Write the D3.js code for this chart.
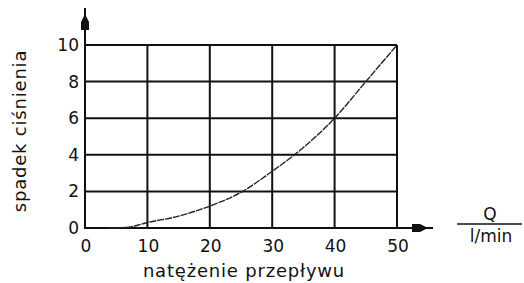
<!DOCTYPE html>
<html>
<head>
<meta charset="utf-8">
<script src="https://cdn.jsdelivr.net/npm/d3@7"></script>
<style>
    body { margin: 0; background: #fff; }
    text { font-family: "DejaVu Sans", sans-serif; fill: #111; }
</style>
</head>
<body>
<div class="chart"></div>
<script>
var flowQ = [4, 7, 10, 15, 20, 25, 30, 35, 40, 45, 50];
var pressureDrop = [0, 0.05, 0.3, 0.65, 1.2, 1.95, 3.1, 4.4, 6.0, 8.0, 10];
var xTicks = [0, 10, 20, 30, 40, 50];
var yTicks = [0, 2, 4, 6, 8, 10];

var w = 524;
var h = 283;

var xScale = d3.scaleLinear().domain([0, 50]).range([85, 397]);
var yScale = d3.scaleLinear().domain([0, 10]).range([228, 45]);

var svg = d3.select(".chart")
            .append("svg")
            .attr("width", w)
            .attr("height", h);

//Grid
svg.append("g")
    .selectAll("line")
    .data(xTicks.slice(1))
    .enter()
    .append("line")
    .attr("x1", function(d){ return xScale(d); })
    .attr("x2", function(d){ return xScale(d); })
    .attr("y1", yScale(0))
    .attr("y2", yScale(10))
    .attr("stroke", "#111")
    .attr("stroke-width", 2);

svg.append("g")
    .selectAll("line")
    .data(yTicks.slice(1))
    .enter()
    .append("line")
    .attr("x1", xScale(0))
    .attr("x2", xScale(50))
    .attr("y1", function(d){ return yScale(d); })
    .attr("y2", function(d){ return yScale(d); })
    .attr("stroke", "#111")
    .attr("stroke-width", 2);

//Axes with arrows
var x0 = xScale(0), y0 = yScale(0);
svg.append("line")
    .attr("x1", x0).attr("x2", x0)
    .attr("y1", y0 + 1).attr("y2", 8)
    .attr("stroke", "#111").attr("stroke-width", 2);
svg.append("line")
    .attr("x1", x0 - 1).attr("x2", 433)
    .attr("y1", y0).attr("y2", y0)
    .attr("stroke", "#111").attr("stroke-width", 2);

svg.append("path")
    .attr("d", "M" + x0 + ",14 L" + (x0 - 4) + ",22 L" + (x0 - 4) + ",30 L" + (x0 + 4) + ",30 L" + (x0 + 4) + ",22 Z")
    .attr("fill", "#111");
svg.append("path")
    .attr("d", "M428," + y0 + " L420," + (y0 - 4) + " L412," + (y0 - 4) + " L412," + (y0 + 4) + " L420," + (y0 + 4) + " Z")
    .attr("fill", "#111");

//Tick labels
svg.append("g")
    .selectAll("text")
    .data(yTicks)
    .enter()
    .append("text")
    .attr("x", 79)
    .attr("y", function(d){ return yScale(d) + 6; })
    .attr("text-anchor", "end")
    .style("font-size", "17px")
    .text(function(d){ return d; });

svg.append("g")
    .selectAll("text")
    .data(xTicks)
    .enter()
    .append("text")
    .attr("x", function(d){ return xScale(d) + 1; })
    .attr("y", 252)
    .attr("text-anchor", "middle")
    .style("font-size", "17px")
    .text(function(d){ return d; });

//Curve
var line = d3.line()
    .x(function(d, i){ return xScale(flowQ[i]); })
    .y(function(d){ return yScale(d); })
    .curve(d3.curveMonotoneX);

svg.append("path")
    .datum(pressureDrop)
    .attr("d", line)
    .attr("fill", "none")
    .attr("stroke", "#222")
    .attr("stroke-width", 1.4)
    .attr("stroke-dasharray", "7,1");

//Axis titles
svg.append("text")
    .attr("transform", "translate(26,131) rotate(-90)")
    .attr("text-anchor", "middle")
    .style("font-size", "18px")
    .style("letter-spacing", "0.8px")
    .text("spadek ciśnienia");

svg.append("text")
    .attr("x", 244)
    .attr("y", 277)
    .attr("text-anchor", "middle")
    .style("font-size", "18px")
    .style("letter-spacing", "0.8px")
    .text("natężenie przepływu");

svg.append("text")
    .attr("x", 490)
    .attr("y", 220)
    .attr("text-anchor", "middle")
    .style("font-size", "17px")
    .text("Q");
svg.append("line")
    .attr("x1", 457).attr("x2", 522)
    .attr("y1", 224).attr("y2", 224)
    .attr("stroke", "#111").attr("stroke-width", 1.5);
svg.append("text")
    .attr("x", 491)
    .attr("y", 242)
    .attr("text-anchor", "middle")
    .style("font-size", "17px")
    .text("l/min");
</script>
</body>
</html>
